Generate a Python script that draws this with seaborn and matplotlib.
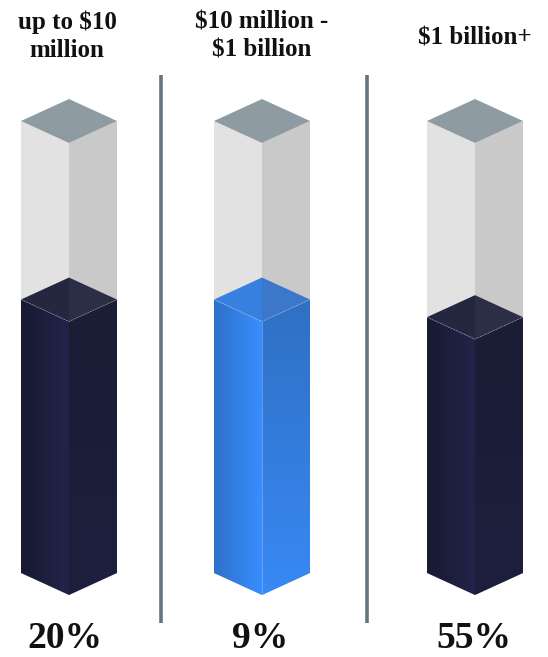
import numpy as np
import matplotlib
matplotlib.use("Agg")
import matplotlib.pyplot as plt
from matplotlib.patches import Polygon
from matplotlib.colors import LinearSegmentedColormap
import seaborn as sns

# --- data -------------------------------------------------------------
categories = ["up to $10\nmillion", "$10 million -\n$1 billion", "$1 billion+"]
shares = [20, 9, 55]                      # percentage labels under each column
fill_level = [0.605, 0.605, 0.566]        # filled fraction of each column
highlight = [False, True, False]          # middle column drawn in blue

# --- style ------------------------------------------------------------
sns.set_theme(style="white")
plt.rcParams["font.family"] = ["Liberation Serif", "DejaVu Serif"]

W, H = 548, 657
centers_px = [69, 262, 475]
label_dx = [-2, 0, 0]
pct_dx = [-4, -2, -1]
half_w_px = 48
col_top_px, col_bot_px = 99, 595          # top vertex of lid, bottom vertex of base
depth = 22 / 452                          # isometric half-height of a diamond, in column units

empty_left, empty_right, lid = "#e2e2e2", "#c9c9c9", "#8f9ba2"
dark = dict(left=sns.blend_palette(["#181a31", "#21244a"], 32),
            right=sns.blend_palette(["#1b1c35", "#1d1f3d"], 32),
            top_l="#25273f", top_r="#2c2e45")
blue = dict(left=sns.blend_palette(["#2d71c8", "#3a8dff"], 32),
            right=sns.blend_palette(["#2f70c4", "#3889f4"], 32),
            top_l="#3880e0", top_r="#3b78c9")

fig = plt.figure(figsize=(W / 100, H / 100), dpi=100)
fig.patch.set_facecolor("white")

# background axes for separators and text, in pixel space
bg = fig.add_axes([0, 0, 1, 1])
bg.set_xlim(0, W)
bg.set_ylim(H, 0)
bg.axis("off")
for xs in (161, 367):
    bg.plot([xs, xs], [75, 623], color="#68747d", lw=2.6, solid_capstyle="butt")


def grad_fill(ax, poly, colors, horizontal=True, extent=None):
    cmap = LinearSegmentedColormap.from_list("g", colors)
    g = np.linspace(0, 1, 128)
    img = g[None, :] if horizontal else g[:, None]
    im = ax.imshow(img, cmap=cmap, extent=extent, aspect="auto",
                   origin="upper", interpolation="bilinear", zorder=2)
    patch = Polygon(poly, closed=True, facecolor="none", edgecolor="none")
    ax.add_patch(patch)
    im.set_clip_path(patch)


for i, cx in enumerate(centers_px):
    ax = fig.add_axes([(cx - half_w_px) / W, 1 - col_bot_px / H,
                       2 * half_w_px / W, (col_bot_px - col_top_px) / H])
    ax.set_xlim(-1, 1)
    ax.set_ylim(-depth, 1 + depth)
    ax.axis("off")
    d = depth
    f = fill_level[i]
    pal = blue if highlight[i] else dark

    # empty glass column
    ax.add_patch(Polygon([(-1, 0), (0, -d), (0, 1 - d), (-1, 1)], closed=True,
                         facecolor=empty_left, edgecolor="none", zorder=1))
    ax.add_patch(Polygon([(0, -d), (1, 0), (1, 1), (0, 1 - d)], closed=True,
                         facecolor=empty_right, edgecolor="none", zorder=1))
    ax.add_patch(Polygon([(-1, 1), (0, 1 + d), (1, 1), (0, 1 - d)], closed=True,
                         facecolor=lid, edgecolor="none", zorder=1))

    # filled part
    left_face = [(-1, 0), (0, -d), (0, f - d), (-1, f)]
    right_face = [(0, -d), (1, 0), (1, f), (0, f - d)]
    grad_fill(ax, left_face, pal["left"], True, extent=(-1, 0, -d, f))
    grad_fill(ax, right_face, pal["right"], False, extent=(0, 1, -d, f))
    ax.add_patch(Polygon([(-1, f), (0, f + d), (0, f - d)], closed=True,
                         facecolor=pal["top_l"], edgecolor="none", zorder=3))
    ax.add_patch(Polygon([(0, f + d), (1, f), (0, f - d)], closed=True,
                         facecolor=pal["top_r"], edgecolor="none", zorder=3))
    ax.plot([-1, 0, 1], [f, f - d, f], color="white", alpha=0.35, lw=0.6,
            ls=(0, (2, 1.5)), zorder=4)
    if highlight[i]:
        ax.plot([0, 0], [-d, f - d], color="white", alpha=0.3, lw=0.6, zorder=4)

    # labels
    two_lines = "\n" in categories[i]
    bg.text(cx + label_dx[i], 36 if two_lines else 37.5, categories[i],
            ha="center", va="center", fontsize=18, fontweight="bold",
            linespacing=1.27, color="#111111")
    bg.text(cx + pct_dx[i], 638, f"{shares[i]}%", ha="center", va="center",
            fontsize=27, fontweight="bold", color="#111111")

fig.savefig("out.png", dpi=100, facecolor="white")
